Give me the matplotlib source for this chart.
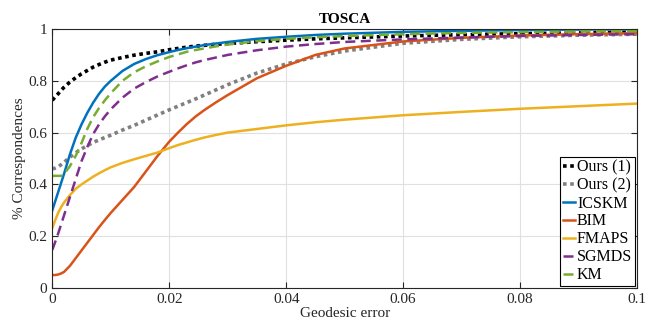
import matplotlib
matplotlib.use("Agg")
import matplotlib.pyplot as plt
from matplotlib.ticker import FormatStrFormatter
import numpy as np

plt.rcParams['font.family'] = ['Liberation Serif', 'DejaVu Serif']

# geodesic error samples
err = [0, 0.0005, 0.001, 0.0015, 0.002, 0.003, 0.004, 0.005, 0.006, 0.007,
       0.008, 0.009, 0.010, 0.012, 0.014, 0.016, 0.018, 0.020, 0.0215, 0.023,
       0.0245, 0.026, 0.028, 0.030, 0.035, 0.040, 0.045, 0.050, 0.060, 0.070,
       0.080, 0.090, 0.100]

ours1 = [0.725, 0.738, 0.75, 0.763, 0.775, 0.795, 0.812, 0.827, 0.840, 0.853,
         0.863, 0.872, 0.880, 0.890, 0.899, 0.906, 0.912, 0.920, 0.925, 0.930,
         0.934, 0.937, 0.941, 0.944, 0.951, 0.957, 0.962, 0.966, 0.973, 0.978,
         0.982, 0.985, 0.988]
ours2 = [0.46, 0.463, 0.468, 0.476, 0.485, 0.505, 0.522, 0.537, 0.55, 0.562,
         0.572, 0.581, 0.59, 0.61, 0.628, 0.648, 0.668, 0.688, 0.702, 0.716,
         0.73, 0.745, 0.765, 0.785, 0.83, 0.865, 0.893, 0.915, 0.945, 0.96,
         0.97, 0.976, 0.98]
icskm = [0.30, 0.335, 0.37, 0.405, 0.44, 0.515, 0.58, 0.632, 0.677, 0.716,
         0.75, 0.778, 0.80, 0.838, 0.865, 0.884, 0.899, 0.911, 0.919, 0.926,
         0.932, 0.938, 0.944, 0.950, 0.962, 0.970, 0.977, 0.982, 0.989, 0.993,
         0.996, 0.998, 0.999]
bim = [0.05, 0.05, 0.052, 0.056, 0.062, 0.085, 0.115, 0.145, 0.175, 0.205,
       0.235, 0.263, 0.29, 0.34, 0.39, 0.45, 0.51, 0.565, 0.60, 0.633,
       0.662, 0.687, 0.717, 0.745, 0.81, 0.858, 0.90, 0.925, 0.952, 0.966,
       0.975, 0.98, 0.984]
fmaps = [0.231, 0.262, 0.29, 0.312, 0.33, 0.358, 0.383, 0.40, 0.415, 0.43,
         0.443, 0.455, 0.466, 0.483, 0.497, 0.51, 0.523, 0.54, 0.552, 0.562,
         0.572, 0.581, 0.591, 0.60, 0.614, 0.628, 0.64, 0.65, 0.667, 0.68,
         0.692, 0.702, 0.712]
sgmds = [0.147, 0.178, 0.21, 0.245, 0.28, 0.35, 0.42, 0.49, 0.545, 0.595,
         0.632, 0.663, 0.69, 0.735, 0.77, 0.795, 0.817, 0.835, 0.848, 0.86,
         0.871, 0.88, 0.89, 0.90, 0.918, 0.932, 0.942, 0.95, 0.96, 0.967,
         0.973, 0.977, 0.98]
# KM stays flat at the start
km_err = [0, 0.0015, 0.002] + err[5:]
km = [0.433, 0.433, 0.44, 0.47, 0.51, 0.56, 0.615, 0.66, 0.695, 0.725, 0.752,
      0.80, 0.833, 0.856, 0.875, 0.892, 0.902, 0.912, 0.919, 0.925, 0.933,
      0.940, 0.953, 0.962, 0.968, 0.973, 0.980, 0.985, 0.988, 0.99, 0.992]

fig = plt.figure(figsize=(6.57, 3.26), dpi=100)
ax = fig.add_axes([0.0796, 0.1166, 0.89, 0.7944])

ax.plot(err, ours1, color='black', lw=2.6, linestyle=(0, (1, 1)), label='Ours (1)')
ax.plot(err, ours2, color='#808080', lw=2.6, linestyle=(0, (1, 1)), label='Ours (2)')
ax.plot(err, icskm, color='#0072BD', lw=1.8, label='ICSKM')
ax.plot(err, bim, color='#D95319', lw=1.8, label='BIM')
ax.plot(err, fmaps, color='#EDB120', lw=1.8, label='FMAPS')
ax.plot(err, sgmds, color='#7E2F8E', lw=1.8, linestyle=(0, (4, 2.2)), label='SGMDS')
ax.plot(km_err, km, color='#77AC30', lw=1.8, linestyle=(0, (4, 2.2)), label='KM')

ax.set_xlim(0, 0.1)
ax.set_ylim(0, 1)
ax.set_xticks(np.arange(0, 0.101, 0.02))
ax.set_yticks(np.arange(0, 1.01, 0.2))
ax.xaxis.set_major_formatter(FormatStrFormatter('%g'))
ax.yaxis.set_major_formatter(FormatStrFormatter('%g'))
ax.tick_params(direction='in', top=True, right=True, length=4, labelsize=11,
               color='#262626', labelcolor='#262626')
ax.grid(True, color='#e0e0e0', lw=0.8)
ax.set_axisbelow(True)
for s in ax.spines.values():
    s.set_color('#262626')
    s.set_linewidth(0.8)

ax.set_xlabel('Geodesic error', fontsize=11, labelpad=1, color='#262626')
ax.set_ylabel('% Correspondences', fontsize=11, labelpad=2, color='#262626')
ax.set_title('TOSCA', fontsize=11, fontweight='bold', pad=4)

leg = ax.legend(loc='lower right', fontsize=11.5, handlelength=0.7, handletextpad=0.15,
                labelspacing=0.12, borderpad=0.2, borderaxespad=0.1, fancybox=False,
                framealpha=1)
leg.get_frame().set_edgecolor('black')
leg.get_frame().set_linewidth(0.8)

fig.savefig('out.png', dpi=100)
